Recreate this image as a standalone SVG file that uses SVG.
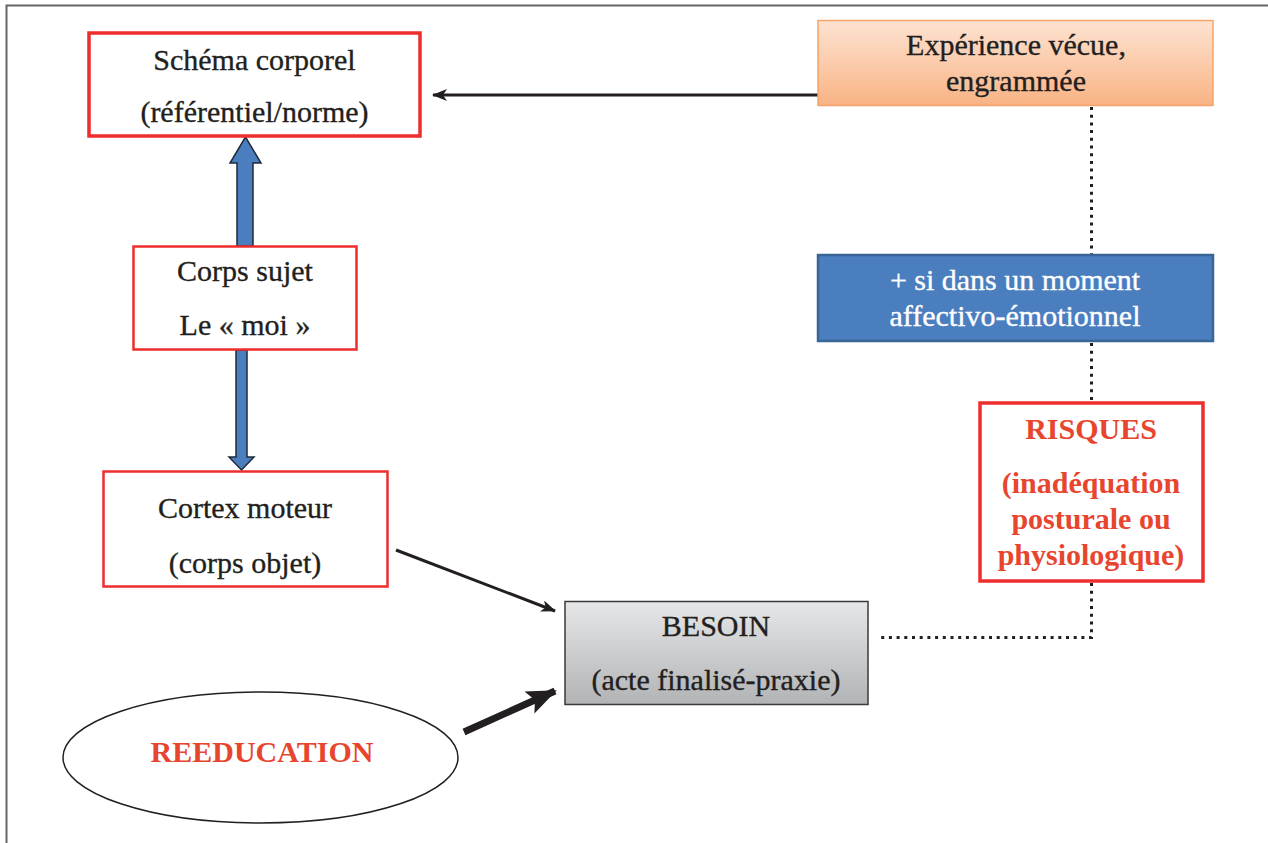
<svg xmlns="http://www.w3.org/2000/svg" width="1268" height="843" viewBox="0 0 1268 843">
<defs>
<style>
.t{font-family:"Liberation Serif","Times New Roman",Tinos,serif;font-size:30px;fill:#231f20;stroke:#231f20;stroke-width:0.35;text-anchor:middle}
.b{font-weight:bold;fill:#e8452f;stroke:none}
.w{fill:#ffffff;stroke:#ffffff}
.red{fill:#ffffff;stroke:#ee2d2d}
.dot{fill:none;stroke:#231f20;stroke-width:3;stroke-dasharray:3 4.7}
.blk{fill:none;stroke:#231f20;stroke-width:3}
.barrow{fill:#4a7ebf;stroke:#1f2a3a;stroke-width:1.5}
</style>
<linearGradient id="gOr" x1="0" y1="0" x2="0" y2="1">
<stop offset="0" stop-color="#fde3d2"/>
<stop offset="1" stop-color="#f9b384"/>
</linearGradient>
<linearGradient id="gGr" x1="0" y1="0" x2="0" y2="1">
<stop offset="0" stop-color="#e6e7e8"/>
<stop offset="1" stop-color="#b1b3b5"/>
</linearGradient>
<marker id="ah" markerWidth="15" markerHeight="12" refX="14" refY="6" orient="auto" markerUnits="userSpaceOnUse" viewBox="0 0 15 12">
<path d="M0,0 L15,6 L0,12 L4,6 Z" fill="#231f20"/>
</marker>
<marker id="ah2" markerWidth="30" markerHeight="26" refX="28" refY="13" orient="auto" markerUnits="userSpaceOnUse" viewBox="0 0 30 26">
<path d="M0,1 L30,13 L0,25 L6,13 Z" fill="#231f20"/>
</marker>
</defs>
<rect width="1268" height="843" fill="#ffffff"/>
<path d="M6.5,843 V5.5 H1268" fill="none" stroke="#666666" stroke-width="2"/>

<g id="connectors">
<line class="blk" x1="818" y1="95" x2="433" y2="95" marker-end="url(#ah)"/>
<path class="barrow" d="M237,246 V163 H230 L245.5,137 L261,163 H253 V246 Z"/>
<path class="barrow" d="M236,350 V457 H229 L241.5,470 L254,457 H247 V350 Z"/>
<line class="blk" x1="396" y1="550" x2="555" y2="611" marker-end="url(#ah)"/>
<line x1="464" y1="732" x2="555" y2="691" stroke="#231f20" stroke-width="7" marker-end="url(#ah2)"/>
<path class="dot" d="M1091.5,107 V254"/>
<path class="dot" d="M1091.5,343 V401"/>
<path class="dot" d="M1091.5,583 V637.5 H879"/>
</g>

<g id="schema">
<rect class="red" x="89" y="33" width="331" height="103" stroke-width="3.5"/>
<text class="t" x="254.5" y="70">Schéma corporel</text>
<text class="t" x="254.5" y="122">(référentiel/norme)</text>
</g>

<g id="experience">
<rect x="818" y="20.5" width="395" height="85" fill="url(#gOr)" stroke="#f6a467" stroke-width="1.5"/>
<text class="t" x="1016" y="55">Expérience vécue,</text>
<text class="t" x="1016" y="91">engrammée</text>
</g>

<g id="corps-sujet">
<rect class="red" x="133.5" y="246.5" width="223" height="103" stroke-width="2.5"/>
<text class="t" x="245" y="281">Corps sujet</text>
<text class="t" x="245" y="335">Le « moi »</text>
</g>

<g id="cortex">
<rect class="red" x="103.5" y="471.5" width="284" height="115" stroke-width="2.5"/>
<text class="t" x="245" y="518">Cortex moteur</text>
<text class="t" x="245" y="573">(corps objet)</text>
</g>

<g id="moment">
<rect x="818" y="255" width="395" height="86" fill="#4a7ebf" stroke="#3a6596" stroke-width="2.5"/>
<text class="t w" x="1015" y="290">+ si dans un moment</text>
<text class="t w" x="1015" y="326">affectivo-émotionnel</text>
</g>

<g id="risques">
<rect class="red" x="980" y="403" width="223" height="178" stroke-width="3.5"/>
<text class="t b" x="1091" y="439">RISQUES</text>
<text class="t b" x="1091" y="493">(inadéquation</text>
<text class="t b" x="1091" y="529">posturale ou</text>
<text class="t b" x="1091" y="565">physiologique)</text>
</g>

<g id="besoin">
<rect x="565" y="601.5" width="303" height="103" fill="url(#gGr)" stroke="#3a3a3a" stroke-width="1.5"/>
<text class="t" x="716" y="636">BESOIN</text>
<text class="t" x="716" y="690">(acte finalisé-praxie)</text>
</g>

<g id="reeducation">
<ellipse cx="260.5" cy="757.5" rx="197.5" ry="65.5" fill="#ffffff" stroke="#231f20" stroke-width="1.5"/>
<text class="t b" x="262" y="762">REEDUCATION</text>
</g>
</svg>
